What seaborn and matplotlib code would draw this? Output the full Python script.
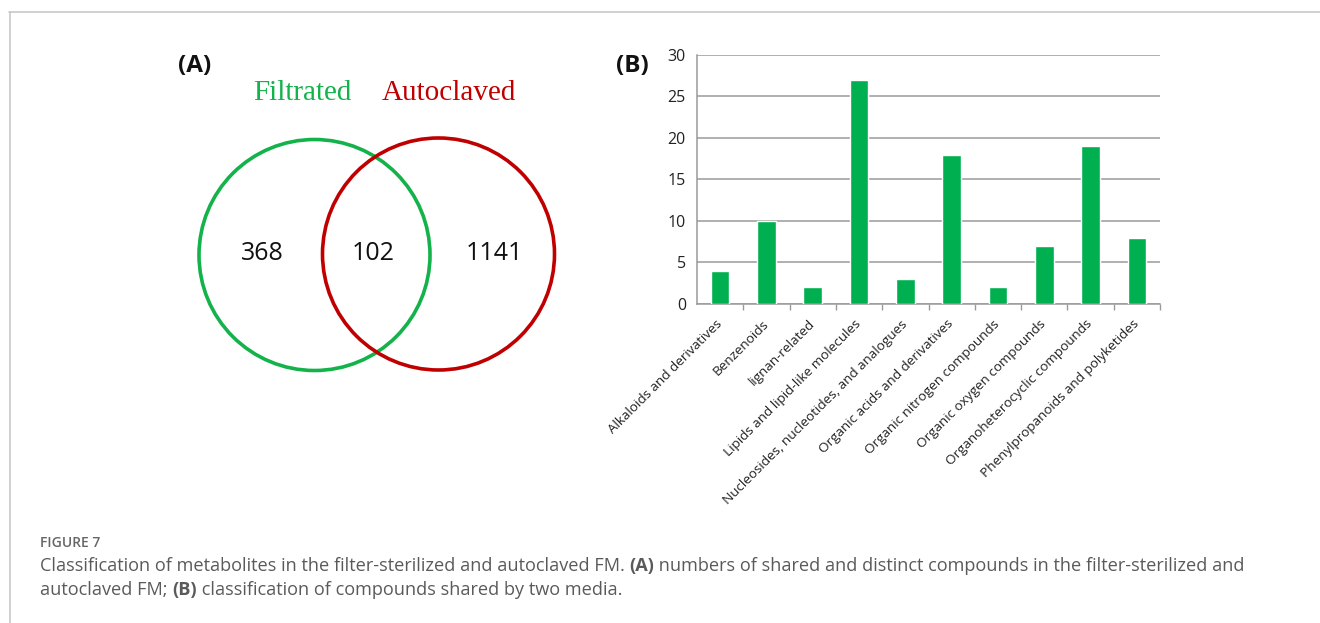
import matplotlib
matplotlib.use("Agg")
import matplotlib.pyplot as plt
from matplotlib.patches import Circle
from matplotlib.lines import Line2D
import numpy as np
import pandas as pd
import seaborn as sns

# Venn counts: filtrated only, shared, autoclaved only
venn_sets = ["Filtrated", "Autoclaved"]
venn_counts = [368, 102, 1141]

# Classes of the shared compounds
categories = [
    "Alkaloids and derivatives",
    "Benzenoids",
    "lignan-related",
    "Lipids and lipid-like molecules",
    "Nucleosides, nucleotides, and analogues",
    "Organic acids and derivatives",
    "Organic nitrogen compounds",
    "Organic oxygen compounds",
    "Organoheterocyclic compounds",
    "Phenylpropanoids and polyketides",
]
counts = [4, 10, 2, 27, 3, 18, 2, 7, 19, 8]
y_ticks = [0, 5, 10, 15, 20, 25, 30]

GREEN = "#00B050"
VENN_GREEN = "#13B24B"
RED = "#C00000"

sns.set_theme(style="white")
plt.rcParams["font.family"] = ["Open Sans", "DejaVu Sans"]

W, H = 1320, 623
fig = plt.figure(figsize=(W / 100, H / 100), dpi=100)

# Canvas axis in pixel units for the frame, Venn diagram and caption
canvas = fig.add_axes([0, 0, 1, 1])
canvas.set_xlim(0, W)
canvas.set_ylim(H, 0)
canvas.axis("off")

canvas.add_line(Line2D([8.5, W], [11.5, 11.5], color="#c8c8c8", lw=1.2))
canvas.add_line(Line2D([9.5, 9.5], [11.5, H], color="#c8c8c8", lw=1.2))

# Venn diagram (A)
canvas.text(178, 66, "(A)", fontsize=17.5, fontweight="bold", color="#111111",
            ha="left", va="center")
canvas.add_patch(Circle((314.5, 255), 115.5, fill=False, ec=VENN_GREEN, lw=2.6))
canvas.add_patch(Circle((438.5, 254), 116, fill=False, ec=RED, lw=2.6))
canvas.text(302, 93, venn_sets[0], fontsize=21, color=VENN_GREEN,
            family=["Liberation Serif"], ha="center", va="center")
canvas.text(449, 93, venn_sets[1], fontsize=21, color=RED,
            family=["Liberation Serif"], ha="center", va="center")
for x, n in zip([262, 373, 494], venn_counts):
    canvas.text(x, 254, str(n), fontsize=18, color="#111111",
                ha="center", va="center")

# Bar chart (B)
canvas.text(616, 66, "(B)", fontsize=17.5, fontweight="bold", color="#111111",
            ha="left", va="center")

x0, x1, y0, y1 = 697, 1160, 55, 304
ax = fig.add_axes([x0 / W, 1 - y1 / H, (x1 - x0) / W, (y1 - y0) / H])
df = pd.DataFrame({"category": categories, "count": counts})
sns.barplot(data=df, x="category", y="count", color=GREEN, saturation=1,
            width=0.4, ax=ax, zorder=3)
ax.set_ylim(0, 30)
ax.set_xlim(-0.5, len(categories) - 0.5)
ax.set_yticks(y_ticks)
ax.set_yticklabels([str(t) for t in y_ticks], fontsize=11.5, color="#222222")
ax.yaxis.grid(True, color="#9a9a9a", lw=1.1, zorder=0)
ax.xaxis.grid(False)
ax.set_xlabel("")
ax.set_ylabel("")
for side in ["top", "right"]:
    ax.spines[side].set_visible(False)
for side in ["left", "bottom"]:
    ax.spines[side].set_color("#9a9a9a")
    ax.spines[side].set_linewidth(1.1)
ax.tick_params(axis="y", length=0, pad=8)
ax.set_xticks(np.arange(len(categories)))
ax.set_xticklabels(categories, rotation=45, ha="right", va="center",
                   rotation_mode="anchor", fontsize=9.7, color="#222222")
ax.tick_params(axis="x", which="major", length=0, pad=13)
ax.set_xticks(np.arange(len(categories)) + 0.5, minor=True)
ax.tick_params(axis="x", which="minor", length=4, width=1, color="#9a9a9a",
               direction="out", bottom=True)
ax.patch.set_alpha(0)


def text_runs(x, y, runs, **kw):
    """Draw a line made of (text, weight) pieces placed one after another."""
    fig.canvas.draw()
    renderer = fig.canvas.get_renderer()
    inv = canvas.transData.inverted()
    for s, weight in runs:
        t = canvas.text(x, y, s, fontweight=weight, ha="left", **kw)
        bb = t.get_window_extent(renderer=renderer)
        x = inv.transform((bb.x1, bb.y0))[0]


# Caption
canvas.text(40, 543, "FIGURE 7", fontsize=10, fontweight="semibold",
            color="#666666", ha="left", va="center")
cap_font = dict(fontsize=13.1, color="#5a5a5a", va="center")
text_runs(40, 566, [
    ("Classification of metabolites in the filter-sterilized and autoclaved FM. ", "normal"),
    ("(A)", "bold"),
    (" numbers of shared and distinct compounds in the filter-sterilized and", "normal"),
], **cap_font)
text_runs(40, 590, [
    ("autoclaved FM; ", "normal"),
    ("(B)", "bold"),
    (" classification of compounds shared by two media.", "normal"),
], **cap_font)

fig.savefig("out.png", dpi=100)
